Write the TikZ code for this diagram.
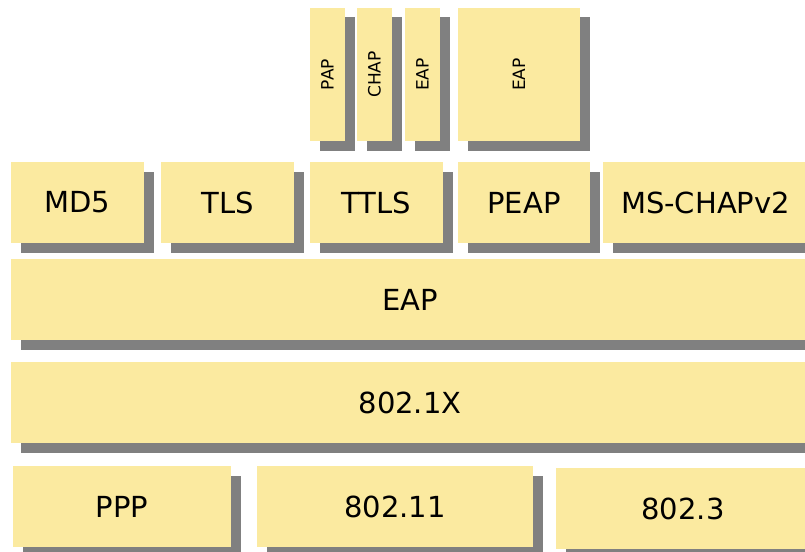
\documentclass[tikz,border=0pt]{standalone}
\usepackage{fontspec}
\setmainfont{DejaVu Sans}
\usetikzlibrary{shadows}
\definecolor{boxc}{RGB}{251,234,160}
\definecolor{shadowc}{RGB}{128,128,128}
\tikzset{
  blk/.style={fill=boxc, draw=none, inner sep=0pt, rectangle,
    general shadow={fill=shadowc, shadow xshift=9.5pt, shadow yshift=-9.5pt},
    font=\fontsize{29}{34}\selectfont},
  tall/.style={blk, font=\fontsize{17}{20}\selectfont},
}
\newcommand{\blkat}[6]{%
  \node[#1, minimum width={(#4)-(#2)}, minimum height={(#5)-(#3)}] at ({((#2)+(#4))/2},{((#3)+(#5))/2}) {#6};}
\begin{document}
\begin{tikzpicture}[x=1pt,y=-1pt]
\useasboundingbox (0,0) rectangle (805,551);
\clip (0,0) rectangle (805,551);
% top row (rotated labels)
\node[tall, minimum width=35pt, minimum height=133pt] (pap) at (327.5,74.5) {\rotatebox{90}{PAP}};
\node[tall, minimum width=35pt, minimum height=133pt] (chap) at (374.5,74.5) {\rotatebox{90}{CHAP}};
\node[tall, minimum width=35pt, minimum height=133pt] (eaps) at (422.5,74.5) {\rotatebox{90}{EAP}};
\node[tall, minimum width=122pt, minimum height=133pt] (eapb) at (519,74.5) {\rotatebox{90}{EAP}};
% second row
\node[blk, minimum width=133pt, minimum height=81pt] (md5) at (77.5,202.5) {MD5};
\node[blk, minimum width=133pt, minimum height=81pt] (tls) at (227.5,202.5) {TLS};
\node[blk, minimum width=133pt, minimum height=81pt] (ttls) at (376.5,202.5) {TTLS};
\node[blk, minimum width=132pt, minimum height=81pt] (peap) at (524,202.5) {PEAP};
\node[blk, minimum width=205pt, minimum height=81pt] (mschap) at (705.5,202.5) {MS-CHAPv2};
% bands
\node[blk, minimum width=798pt, minimum height=81pt] (eap) at (410,299.5) {EAP};
\node[blk, minimum width=798pt, minimum height=81pt] (dot1x) at (410,402.5) {802.1X};
% bottom row
\node[blk, minimum width=218pt, minimum height=81pt] (ppp) at (122,506.5) {PPP};
\node[blk, minimum width=276pt, minimum height=81pt] (wifi) at (395,506.5) {802.11};
\node[blk, minimum width=254pt, minimum height=81pt] (eth) at (683,508.5) {802.3};
\end{tikzpicture}
\end{document}
